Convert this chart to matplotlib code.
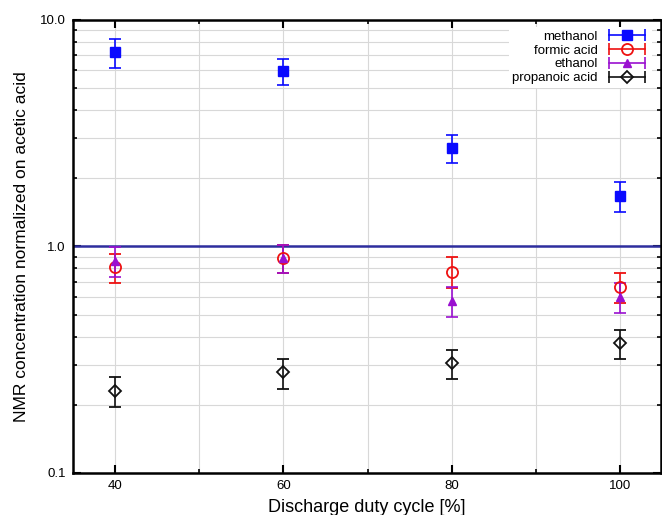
import matplotlib
matplotlib.use("Agg")
import matplotlib.pyplot as plt
from matplotlib.ticker import FixedLocator, LogLocator, NullFormatter, FixedFormatter
from matplotlib.lines import Line2D
from matplotlib.legend_handler import HandlerLine2D, HandlerTuple

plt.rcParams['font.family'] = ['Liberation Sans', 'DejaVu Sans']

duty = [40, 60, 80, 100]
methanol = [7.2, 5.95, 2.72, 1.67]
methanol_err = [1.05, 0.8, 0.38, 0.25]
formic = [0.81, 0.89, 0.775, 0.665]
formic_err = [0.12, 0.13, 0.12, 0.10]
ethanol = [0.86, 0.89, 0.575, 0.60]
ethanol_err = [0.13, 0.13, 0.085, 0.09]
propanoic = [0.23, 0.278, 0.305, 0.374]
propanoic_err = [0.034, 0.042, 0.045, 0.055]
labels = ['methanol', 'formic acid', 'ethanol', 'propanoic acid']

fig = plt.figure(figsize=(6.62, 5.15), dpi=100)
ax = fig.add_axes([0.110, 0.0816, 0.888, 0.8796])
ax.set_yscale('log')
ax.set_xlim(35, 104.8)
ax.set_ylim(0.1, 10)

ax.xaxis.set_major_locator(FixedLocator([40, 60, 80, 100]))
ax.xaxis.set_minor_locator(FixedLocator([50, 70, 90]))
ax.yaxis.set_major_locator(FixedLocator([0.1, 1.0, 10.0]))
ax.yaxis.set_major_formatter(FixedFormatter(['0.1', '1.0', '10.0']))
ax.yaxis.set_minor_locator(LogLocator(base=10, subs=range(2, 10)))
ax.yaxis.set_minor_formatter(NullFormatter())
ax.grid(True, which='both', color='#d8d8d8', lw=0.8)
ax.set_axisbelow(True)

ax.axhline(1.0, color='#2e2e9e', lw=1.8, zorder=2)

ek = dict(capsize=4, elinewidth=1.2, capthick=1.2, ls='none', zorder=3)
styles = [
    dict(fmt='s', color='#0a0aff', ms=7),
    dict(fmt='o', color='#ee1111', ms=8, mfc='none', mew=1.3),
    dict(fmt='^', color='#9a10d0', ms=6),
    dict(fmt='D', color='#111111', ms=6, mfc='none', mew=1.3),
]
series = [(methanol, methanol_err), (formic, formic_err),
          (ethanol, ethanol_err), (propanoic, propanoic_err)]
handles = []
hmap = {}
for (vals, errs), st, lab in zip(series, styles, labels):
    ax.errorbar(duty, vals, yerr=errs, **st, **ek)
    caps = Line2D([], [], color=st['color'], lw=1.2, marker='|', ms=8, mew=1.2)
    mk = Line2D([], [], ls='none', marker=st['fmt'], color=st['color'],
                ms=st['ms'], mfc=st.get('mfc', st['color']), mew=st.get('mew', 1.0))
    hmap[caps] = HandlerLine2D(numpoints=2)
    hmap[mk] = HandlerLine2D(numpoints=1)
    handles.append((caps, mk))
hmap[tuple] = HandlerTuple(ndivide=1)

ax.tick_params(which='major', direction='in', length=6, width=1.5, top=True, right=True,
               labelsize=9.5, pad=5)
ax.tick_params(which='minor', direction='in', length=3, width=1.2, top=True, right=True)
for s in ax.spines.values():
    s.set_linewidth(1.8)

ax.set_xlabel('Discharge duty cycle [%]', fontsize=13, labelpad=5)
ax.set_ylabel('NMR concentration normalized on acetic acid', fontsize=12.5, labelpad=8)

leg = ax.legend(handles, labels, handler_map=hmap, loc='upper right', markerfirst=False,
                frameon=True, fontsize=9.5, handlelength=3.3, labelspacing=0.13,
                borderpad=0.25, bbox_to_anchor=(0.997, 0.999), handletextpad=0.6)
leg.get_frame().set_edgecolor('none')
leg.get_frame().set_facecolor('white')
leg.get_frame().set_alpha(1.0)
leg.get_frame().set_boxstyle('square', pad=0)

fig.savefig('out.png', dpi=100)
